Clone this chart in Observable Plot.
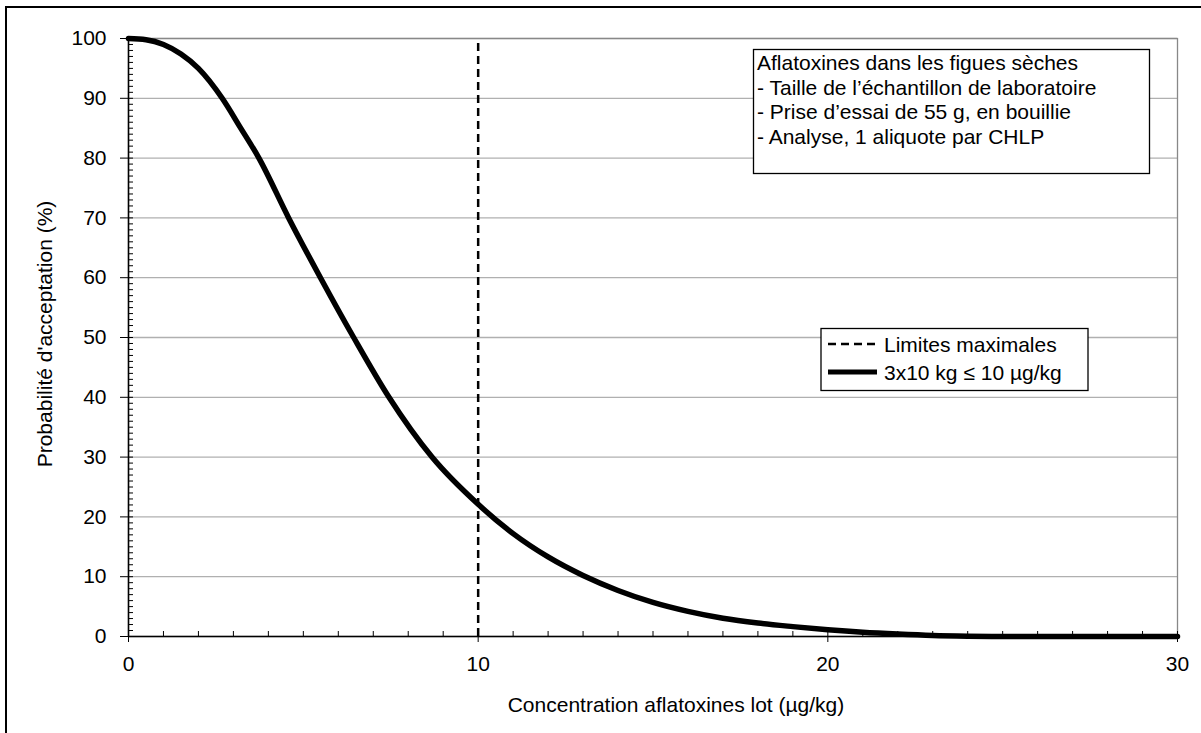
<!DOCTYPE html>
<html><head><meta charset="utf-8">
<script src="https://cdn.jsdelivr.net/npm/d3@7"></script>
<script src="https://cdn.jsdelivr.net/npm/@observablehq/plot@0.6"></script>
<style>
body{margin:0;background:#fff;}
svg{font-family:"Liberation Sans",Arial,sans-serif;}
</style></head><body><div id="chart"></div>
<script>
// Lot concentration (µg/kg) and probability of acceptance (%)
const concentration = [0, 0.5, 1, 1.5, 2, 2.68, 3.2, 3.73, 4.58, 5.49, 6.44, 7.45, 8.68, 10, 11, 12, 13, 14, 15, 16, 17, 18, 19, 20, 21, 22, 23, 24, 25, 26, 27, 28, 29, 30];
const acceptance    = [100, 99.8, 99.0, 97.4, 95.0, 90, 85.1, 80, 70, 60, 50, 40, 30, 22.1, 17.2, 13.3, 10.2, 7.7, 5.7, 4.2, 3.05, 2.25, 1.65, 1.12, 0.7, 0.4, 0.17, 0.06, 0.01, 0, 0, 0, 0, 0];
const limitValue = [10];
const xTicks = [0, 10, 20, 30];
const yTicks = [0, 10, 20, 30, 40, 50, 60, 70, 80, 90, 100];
const xMinorTicks = d3.range(0, 31, 1);
const yMinorTicks = d3.range(0, 101, 1);
const infoLines = ["Aflatoxines dans les figues sèches", "- Taille de l\u2019échantillon de laboratoire", "- Prise d\u2019essai de 55 g, en bouillie", "- Analyse, 1 aliquote par CHLP"];
const legendLabels = ["Limites maximales", "3x10 kg \u2264 10 µg/kg"];
const xLabel = "Concentration aflatoxines lot (µg/kg)";
const yLabel = "Probabilité d'acceptation (%)";

const data = concentration.map((x, i) => ({x, p: acceptance[i]}));
const FS = 21;

const chart = Plot.plot({
  width: 1201, height: 733,
  marginLeft: 128, marginRight: 24, marginTop: 38, marginBottom: 97,
  style: {fontFamily: '"Liberation Sans", Arial, sans-serif', fontSize: FS + "px", color: "#000", background: "#fff", overflow: "visible"},
  x: {domain: [0, 30]},
  y: {domain: [0, 100]},
  marks: [
    Plot.gridY(yTicks.filter(d => d > 0), {stroke: "#b0b0b0", strokeOpacity: 1, strokeWidth: 1.3}),
    Plot.frame({stroke: "#888", strokeWidth: 1.3}),
    Plot.ruleX([0], {stroke: "#000", strokeWidth: 1.5}),
    Plot.ruleY([0], {stroke: "#000", strokeWidth: 1.5}),
    Plot.ruleX(limitValue, {y1: 0, y2: 100, stroke: "#000", strokeWidth: 2.5, strokeDasharray: "8,5"}),
    Plot.line(data, {x: "x", y: "p", stroke: "#000", strokeWidth: 5.5, curve: "monotone-x"}),
    Plot.axisY(yTicks, {tickSize: 8, tickPadding: 14, label: null, fontSize: FS}),
    Plot.axisY(yMinorTicks, {tickSize: 5, dx: 5, tickFormat: () => "", label: null}),
    Plot.axisX(xTicks, {tickSize: 6, tickPadding: 14, label: null, fontSize: FS}),
    Plot.axisX(xMinorTicks, {tickSize: 5, dy: -5, tickFormat: () => "", label: null})
  ]
});
document.getElementById("chart").appendChild(chart);

const svg = d3.select(chart);
// outer chart frame
svg.append("rect").attr("x", 6).attr("y", 7).attr("width", 1210).attr("height", 740)
  .attr("fill", "none").attr("stroke", "#000").attr("stroke-width", 2);

// axis titles
svg.append("text").attr("x", 676).attr("y", 712).attr("text-anchor", "middle")
  .attr("font-size", FS).attr("fill", "#000").text(xLabel);
svg.append("text").attr("transform", "translate(45,334) rotate(-90)").attr("text-anchor", "middle")
  .attr("dy", "0.35em").attr("font-size", FS).attr("fill", "#000").text(yLabel);

// info box
const g1 = svg.append("g").attr("text-anchor", "start");
g1.append("rect").attr("x", 753.5).attr("y", 49.5).attr("width", 396).attr("height", 124)
  .attr("fill", "#fff").attr("stroke", "#000").attr("stroke-width", 1.3);
infoLines.forEach((t, i) => {
  g1.append("text").attr("x", 757).attr("y", 70 + i * 24.6).attr("text-anchor", "start")
    .attr("font-size", FS).attr("fill", "#000").text(t);
});

// legend box
const g2 = svg.append("g").attr("text-anchor", "start");
g2.append("rect").attr("x", 821).attr("y", 328.5).attr("width", 267).attr("height", 62)
  .attr("fill", "#fff").attr("stroke", "#000").attr("stroke-width", 1.3);
g2.append("line").attr("x1", 828).attr("x2", 877).attr("y1", 344).attr("y2", 344)
  .attr("stroke", "#000").attr("stroke-width", 2.5).attr("stroke-dasharray", "8,5");
g2.append("line").attr("x1", 828).attr("x2", 877).attr("y1", 372).attr("y2", 372)
  .attr("stroke", "#000").attr("stroke-width", 5);
legendLabels.forEach((t, i) => {
  g2.append("text").attr("x", 884).attr("y", 351.5 + i * 28).attr("text-anchor", "start")
    .attr("font-size", FS).attr("fill", "#000").text(t);
});
</script></body></html>
